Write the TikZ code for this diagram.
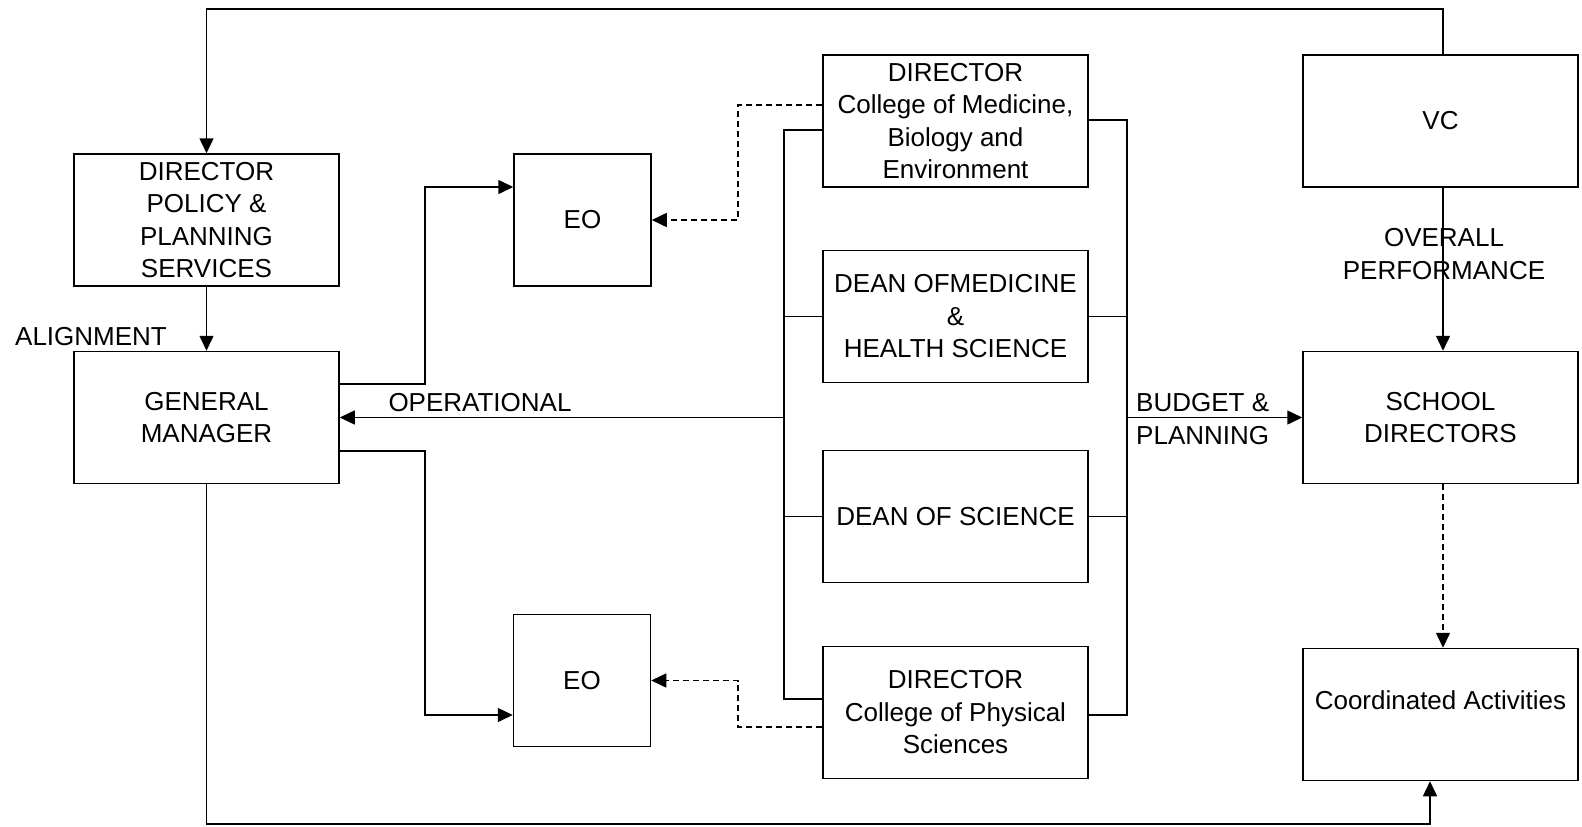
\documentclass[tikz,border=0pt]{standalone}
\usepackage{fontspec}
\setmainfont{Liberation Sans}
\usetikzlibrary{arrows.meta}
\begin{document}
\begin{tikzpicture}[x=1pt,y=-1pt,
  every node/.style={font=\fontsize{26}{32.5}\selectfont, align=center, inner sep=0pt},
  box/.style={draw, line width=1.5pt, minimum width=265pt, minimum height=132pt},
  ln/.style={line width=1.5pt},
  arr/.style={ln, -{Triangle[length=15pt,width=14pt]}},
  darr/.style={arr, dash pattern=on 6pt off 4pt}]
\useasboundingbox (0,0) rectangle (1582,827);
\fill[white] (0,0) rectangle (1582,827);
% boxes
\node[box] (dps) at (206.5,220) {DIRECTOR\\POLICY \&\\PLANNING\\SERVICES};
\node[box] (gm) at (206.5,417.5) {GENERAL\\MANAGER};
\node[box, minimum width=137pt] (eo1) at (582.5,220) {EO};
\node[box, minimum width=137pt] (eo2) at (582,680.5) {EO};
\node[box] (dm) at (955.5,121) {DIRECTOR\\College of Medicine,\\Biology and\\Environment};
\node[box] (dh) at (955.5,316.5) {DEAN OFMEDICINE\\\&\\HEALTH SCIENCE};
\node[box] (ds) at (955.5,516.5) {DEAN OF SCIENCE};
\node[box] (dp) at (955.5,712.5) {DIRECTOR\\College of Physical\\Sciences};
\node[box, minimum width=275pt] (vc) at (1440.5,121) {VC};
\node[box, minimum width=275pt] (sd) at (1440.5,417.5) {SCHOOL\\DIRECTORS};
\node[box, minimum width=275pt] (ca) at (1440.5,714.5) {};
\node (catext) at (1440.5,700) {Coordinated Activities};
% labels
\node[anchor=west] (alignlbl) at (15,337) {ALIGNMENT};
\node (oplbl) at (480,403) {OPERATIONAL};
\node[anchor=west, align=left] (bplbl) at (1136,419) {BUDGET \&\\PLANNING};
\node (ovlbl) at (1444,254) {OVERALL\\PERFORMANCE};
% connectors
\coordinate (t1) at (1443,9); \coordinate (t2) at (206.5,9);
\draw[arr] (vc.north -| t1) -- (t1) -- (t2) -- (dps.north);
\draw[arr] (dps.south) -- (gm.north);
\coordinate (g1) at (425,384); \coordinate (g2) at (425,187);
\draw[arr] (gm.east |- g1) -- (g1) -- (g2) -- (eo1.west |- g2);
\coordinate (g3) at (425,451); \coordinate (g4) at (425,715);
\draw[arr] (gm.east |- g3) -- (g3) -- (g4) -- (eo2.west |- g4);
% left bus
\coordinate (lb1) at (784,130); \coordinate (lb2) at (784,699); \coordinate (lbm) at (784,417.5);
\draw[ln] (dm.west |- lb1) -- (lb1) -- (lb2) -- (dp.west |- lb2);
\draw[ln] (dh.west) -- (dh.west -| lb1);
\draw[ln] (ds.west) -- (ds.west -| lb1);
\draw[arr] (lbm) -- (gm.east);
% right bus
\coordinate (rb1) at (1127,120); \coordinate (rb2) at (1127,715); \coordinate (rbm) at (1127,417.5);
\draw[ln] (dm.east |- rb1) -- (rb1) -- (rb2) -- (dp.east |- rb2);
\draw[ln] (dh.east) -- (dh.east -| rb1);
\draw[ln] (ds.east) -- (ds.east -| rb1);
\draw[arr] (rbm) -- (sd.west);
% dashed
\coordinate (d1) at (738,105); \coordinate (d2) at (738,220);
\draw[darr] (dm.west |- d1) -- (d1) -- (d2) -- (eo1.east);
\coordinate (d3) at (738,727); \coordinate (d4) at (738,680.5);
\draw[darr] (dp.west |- d3) -- (d3) -- (d4) -- (eo2.east);
\coordinate (v1) at (1443,0);
\draw[arr] (vc.south -| v1) -- (sd.north -| v1);
\draw[darr] (sd.south -| v1) -- (ca.north -| v1);
\coordinate (b1) at (206.5,824); \coordinate (b2) at (1430,824);
\draw[arr] (gm.south) -- (b1) -- (b2) -- (ca.south -| b2);
\end{tikzpicture}
\end{document}
